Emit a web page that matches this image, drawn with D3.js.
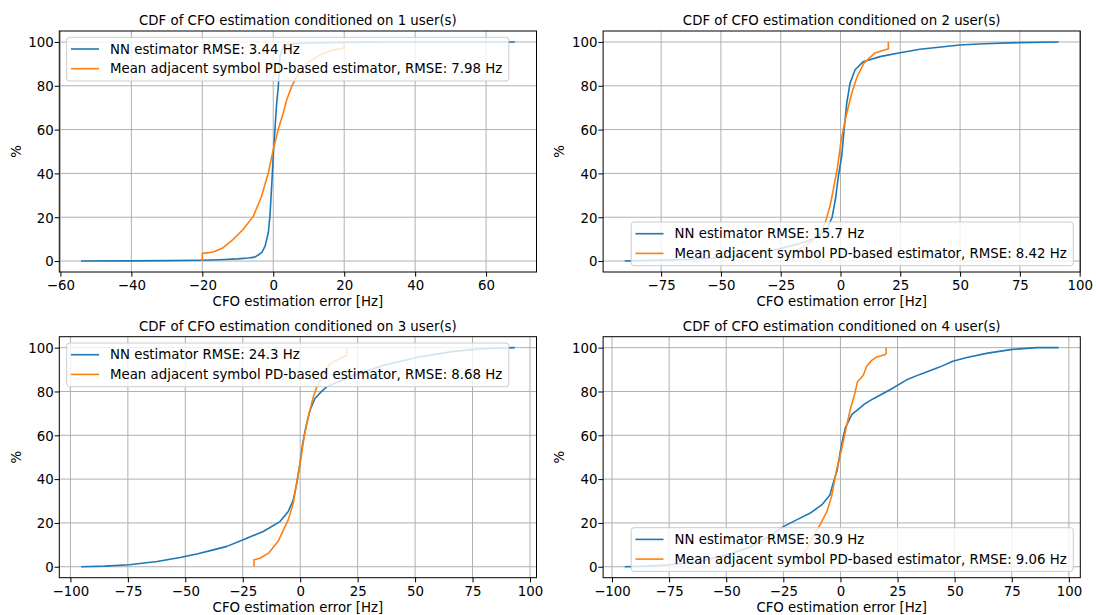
<!DOCTYPE html>
<html>
<head>
<meta charset="utf-8">
<script src="https://cdn.jsdelivr.net/npm/d3@7"></script>
<style>
  body { margin: 0; background: #fff; }
  text { font-family: "DejaVu Sans", sans-serif; font-size: 13.33px; fill: #000; }
</style>
</head>
<body>
<svg id="chart" width="1096" height="615"></svg>
<script>
// ---------------- data ----------------
const users = [1, 2, 3, 4];
const nnRmse = ["3.44", "15.7", "24.3", "30.9"];
const pdRmse = ["7.98", "8.42", "8.68", "9.06"];

// CDF curves: [CFO error (Hz), cumulative %]
const nn1 = [[-54.2,0],[-40,0.1],[-30,0.2],[-20,0.35],[-15,0.6],[-10,1.0],[-7,1.4],[-5.2,1.8],[-4,3],[-3.2,4],[-2.3,6.8],[-1.4,12.9],[-0.93,20.5],[-0.45,34],[0,47.8],[0.48,60],[0.96,72],[1.4,79],[1.9,93.3],[2.8,97.9],[4,98.8],[6.6,99.3],[10,99.5],[20,99.8],[30,100],[68.1,100]];
const pd1 = [[-20,0],[-20,3.5],[-16.9,4.1],[-14.1,6.1],[-11.3,9.9],[-8.5,14.4],[-5.6,20.5],[-3.3,29.6],[-1.4,40.2],[0,50.8],[1.4,60],[2.8,67.5],[3.8,73.6],[5.2,79.7],[6.6,84.2],[9.4,90.3],[13.2,94.1],[16.9,96.4],[19.7,97.1],[20,97.2],[20,100]];

const nn2 = [[-90.2,0],[-75,0.4],[-62.9,0.8],[-50.4,1.5],[-37.9,3],[-26.7,5.3],[-18.3,7.6],[-10,10.6],[-5.8,14.4],[-3.5,20],[-2,29],[-0.9,38.7],[0.5,47.8],[1.5,60],[2.6,72],[4,81.2],[6.1,87.3],[9.5,91],[16.5,93.3],[24.9,95.1],[33.2,96.7],[49.9,98.6],[60,99.2],[74.7,99.7],[91.2,100]];
const pd2 = [[-20,0],[-19.8,2.5],[-18.3,5],[-14,7.5],[-10,11],[-8,14],[-6.3,18],[-4.4,25],[-3,32.6],[-1.2,43.2],[0.3,55.4],[2.5,67],[4.7,76.6],[6.9,84],[9.8,90.3],[14.2,94.8],[19.3,96.7],[20,96.8],[20,100]];

const nn3 = [[-95.4,0],[-85,0.3],[-74.4,0.9],[-62.3,2.4],[-52.3,4.2],[-45,5.8],[-37.8,7.7],[-31.9,9.3],[-24.8,12.3],[-16.1,16.1],[-8.8,20.6],[-5.2,25.2],[-3,30.5],[-1.5,38.1],[-0.1,47.2],[1.1,56.3],[2.5,63.9],[4.3,71.4],[6.4,76.8],[9.1,79.8],[11.5,82.1],[21.2,86.6],[36.4,92],[51.6,95.7],[66.8,98.3],[78.9,99.5],[93.4,100]];
const pd3 = [[-20.1,0],[-20.1,3.2],[-17.5,3.9],[-13.8,6.2],[-9.5,11.8],[-7.3,16.8],[-5.2,21.4],[-3,29],[-1.3,39.6],[0.2,48.7],[1.7,59.3],[3.5,68.4],[5.7,77.5],[7.2,82.1],[9.4,86.6],[13,92.7],[17.3,95],[20.2,96.5],[20.2,100]];

const nn4 = [[-94.4,0],[-85,0.3],[-74.6,0.9],[-61.5,2.5],[-50,5.3],[-40,8.8],[-31,13.9],[-25,18.3],[-19.2,21.4],[-13.4,24.4],[-8.2,28.2],[-4.6,32.8],[-3.2,38.1],[-1.4,44.2],[-0.2,51.8],[1.2,59.3],[2.2,63.5],[3.4,66.1],[5,69.5],[7.1,71.3],[10.5,74.2],[14.2,76.6],[21.7,80.8],[29,85.3],[34.8,87.8],[43.1,91],[49.2,93.8],[55.3,95.5],[64.5,97.5],[75.2,99.2],[85.9,100],[95.5,100]];
const pd4 = [[-20.2,0],[-19.9,1.7],[-17.5,4.5],[-15,7.5],[-11.9,14],[-9,19],[-6,25],[-3.9,32],[-1.7,44.2],[0.1,51.8],[2,60.9],[4.2,71.4],[6.3,79.1],[7.4,84.3],[10,87.4],[11.5,91.5],[13.7,94.2],[15.8,95.7],[19.5,96.8],[20,97.5],[20,100]];

const xTicks1 = [-60, -40, -20, 0, 20, 40, 60];
const xTicks2 = [-75, -50, -25, 0, 25, 50, 75, 100];
const xTicks3 = [-100, -75, -50, -25, 0, 25, 50, 75, 100];
const xTicks4 = [-100, -75, -50, -25, 0, 25, 50, 75, 100];
const yTicks = [0, 20, 40, 60, 80, 100];
const yDomain = [-5, 105];

const xLabel = "CFO estimation error [Hz]";
const yLabel = "%";

// ---------------- layout ----------------
const W = 1096, H = 615;
const colNN = "#1f77b4", colPD = "#ff7f0e";
const boxes = [
  {L: 59.3,  T: 31,    R: 536.5,  B: 272,   loc: "ul"},
  {L: 603.1, T: 31,    R: 1080.3, B: 272,   loc: "lr"},
  {L: 59.3,  T: 336.7, R: 536.5,  B: 577.7, loc: "ul"},
  {L: 603.1, T: 336.7, R: 1080.3, B: 577.7, loc: "lr"}
];
const nnSeries = [nn1, nn2, nn3, nn4];
const pdSeries = [pd1, pd2, pd3, pd4];
const xTickSets = [xTicks1, xTicks2, xTicks3, xTicks4];

const svg = d3.select("#chart");
svg.append("rect").attr("width", W).attr("height", H).attr("fill", "#fff");

const fmt = d => (d < 0 ? "\u2212" + Math.abs(d) : String(d));

users.forEach((u, i) => {
  const b = boxes[i];
  const nn = nnSeries[i], pd = pdSeries[i];
  const all = nn.concat(pd);
  const ext = d3.extent(all, d => d[0]);
  const span = ext[1] - ext[0];
  const x = d3.scaleLinear().domain([ext[0] - 0.05 * span, ext[1] + 0.05 * span]).range([b.L, b.R]);
  const y = d3.scaleLinear().domain(yDomain).range([b.B, b.T]);
  const g = svg.append("g");

  const clipId = "clip" + i;
  svg.append("clipPath").attr("id", clipId).append("rect")
    .attr("x", b.L).attr("y", b.T).attr("width", b.R - b.L).attr("height", b.B - b.T);

  // grid
  const grid = g.append("g").attr("stroke", "#b0b0b0").attr("stroke-width", 1);
  xTickSets[i].forEach(t => grid.append("line")
    .attr("x1", x(t)).attr("x2", x(t)).attr("y1", b.T).attr("y2", b.B));
  yTicks.forEach(t => grid.append("line")
    .attr("x1", b.L).attr("x2", b.R).attr("y1", y(t)).attr("y2", y(t)));

  // lines
  const line = d3.line().x(d => x(d[0])).y(d => y(d[1]));
  const lg = g.append("g").attr("clip-path", `url(#${clipId})`);
  lg.append("path").datum(nn).attr("d", line).attr("fill", "none")
    .attr("stroke", colNN).attr("stroke-width", 1.6).attr("stroke-linejoin", "round");
  lg.append("path").datum(pd).attr("d", line).attr("fill", "none")
    .attr("stroke", colPD).attr("stroke-width", 1.6).attr("stroke-linejoin", "round");

  // spines
  g.append("rect").attr("x", b.L).attr("y", b.T).attr("width", b.R - b.L).attr("height", b.B - b.T)
    .attr("fill", "none").attr("stroke", "#000").attr("stroke-width", 1);

  // axes
  const ax = g.append("g").attr("transform", `translate(0,${b.B})`)
    .call(d3.axisBottom(x).tickValues(xTickSets[i]).tickFormat(fmt).tickSize(4.7).tickPadding(3.8));
  const ay = g.append("g").attr("transform", `translate(${b.L},0)`)
    .call(d3.axisLeft(y).tickValues(yTicks).tickFormat(fmt).tickSize(4.7).tickPadding(0.9));
  [ax, ay].forEach(a => {
    a.select(".domain").remove();
    a.selectAll(".tick line").attr("stroke", "#000").attr("stroke-width", 1);
    a.selectAll(".tick text").attr("font-family", "DejaVu Sans").attr("font-size", "13.33px").attr("fill", "#000");
  });
  ay.selectAll(".tick text").attr("dy", "0.36em");

  // title & labels
  g.append("text").attr("x", (b.L + b.R) / 2).attr("y", b.T - 6).attr("text-anchor", "middle")
    .text(`CDF of CFO estimation conditioned on ${u} user(s)`);
  g.append("text").attr("x", (b.L + b.R) / 2).attr("y", b.B + 34).attr("text-anchor", "middle")
    .text(xLabel);
  g.append("text").attr("transform", `translate(${b.L - 43.6},${(b.T + b.B) / 2}) rotate(-90)`)
    .attr("dy", "0.36em").attr("text-anchor", "middle").text(yLabel);

  // legend
  const labels = [`NN estimator RMSE: ${nnRmse[i]} Hz`, `Mean adjacent symbol PD-based estimator, RMSE: ${pdRmse[i]} Hz`];
  const colors = [colNN, colPD];
  const leg = g.append("g");
  const frame = leg.append("rect");
  const texts = labels.map((s, k) => leg.append("text").attr("dy", "0.36em").text(s));
  const tw = d3.max(texts, t => t.node().getComputedTextLength());
  const lw = 43.3 + tw + 6.5, lh = 43.7;
  const lx = b.loc === "ul" ? b.L + 7.4 : b.R - 7 - lw;
  const ly = b.loc === "ul" ? b.T + 6.3 : b.B - 6.3 - lh;
  frame.attr("x", lx).attr("y", ly).attr("width", lw).attr("height", lh).attr("rx", 2.8)
    .attr("fill", "#fff").attr("fill-opacity", 0.8).attr("stroke", "#cccccc").attr("stroke-width", 1);
  const rows = [ly + 11.7, ly + 31.4];
  texts.forEach((t, k) => t.attr("x", lx + 43.3).attr("y", rows[k]));
  rows.forEach((ry, k) => leg.append("line").attr("x1", lx + 4.3).attr("x2", lx + 32.3)
    .attr("y1", ry).attr("y2", ry).attr("stroke", colors[k]).attr("stroke-width", 1.6));
});
</script>
</body>
</html>
